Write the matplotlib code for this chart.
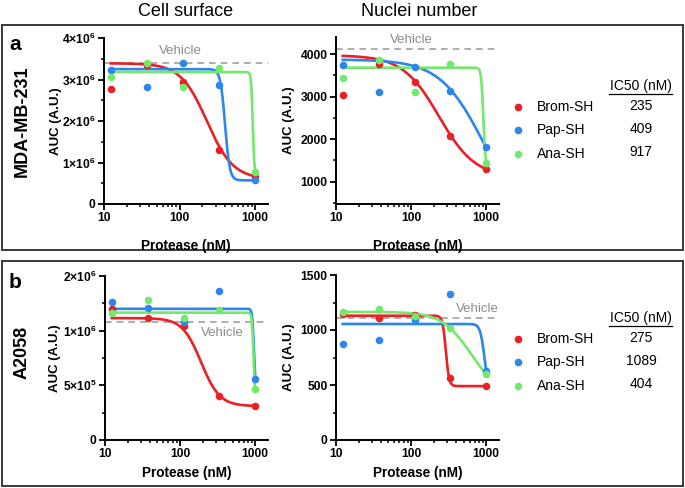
import numpy as np
import matplotlib
matplotlib.use("Agg")
import matplotlib.pyplot as plt
from matplotlib.patches import Rectangle
from matplotlib.ticker import MultipleLocator, NullFormatter

plt.rcParams['font.family'] = ['Liberation Sans', 'DejaVu Sans']
plt.rcParams['mathtext.fontset'] = 'custom'
plt.rcParams['mathtext.rm'] = 'Liberation Sans:bold'
plt.rcParams['mathtext.it'] = 'Liberation Sans:bold'
plt.rcParams['mathtext.bf'] = 'Liberation Sans:bold'

# ── data ─────────────────────────────────────────────
conc = [12.3, 37, 111, 333, 1000]           # protease, nM
compounds = ["Brom-SH", "Pap-SH", "Ana-SH"]
colors = ["#EC1F24", "#2D86EC", "#72E86C"]

# panel a, cell surface (AUC)
a_cell_brom = [2.76e6, 3.35e6, 2.93e6, 1.31e6, 0.65e6]
a_cell_pap  = [3.22e6, 2.83e6, 3.40e6, 2.87e6, 0.58e6]
a_cell_ana  = [3.07e6, 3.39e6, 2.82e6, 3.27e6, 0.77e6]
# panel a, nuclei number
a_nuc_brom = [3040, 3770, 3335, 2075, 1300]
a_nuc_pap  = [3750, 3100, 3695, 3140, 1810]
a_nuc_ana  = [3430, 3860, 3110, 3765, 1435]
# panel b, cell surface
b_cell_brom = [1.198e6, 1.113e6, 1.046e6, 0.398e6, 0.313e6]
b_cell_pap  = [1.262e6, 1.210e6, 1.077e6, 1.365e6, 0.559e6]
b_cell_ana  = [1.164e6, 1.283e6, 1.113e6, 1.190e6, 0.468e6]
# panel b, nuclei number
b_nuc_brom = [1145, 1112, 1139, 560, 491]
b_nuc_pap  = [869, 912, 1091, 1327, 630]
b_nuc_ana  = [1160, 1191, 1125, 1015, 597]

# fitted 4PL curves: (top, bottom, inflection nM, hill)
a_cell_fit = [(3.39e6, 0.60e6, 230, 2.5), (3.25e6, 0.57e6, 400, 14), (3.18e6, 0.70e6, 930, 40)]
a_nuc_fit  = [(3970, 1100, 235, 1.8), (3870, 0, 911, 1.5), (3680, 1300, 917, 30)]
b_cell_fit = [(1.115e6, 0.31e6, 190, 3.5), (1.20e6, 0.45e6, 960, 40), (1.165e6, 0.35e6, 950, 40)]
b_nuc_fit  = [(1130, 490, 290, 20), (1055, 430, 950, 15), (1165, 400, 627, 2.23)]

vehicle = {"a_cell": 3.39e6, "a_nuc": 4110, "b_cell": 1.082e6, "b_nuc": 1109}

ic50_a = ["235", "409", "917"]
ic50_b = ["275", "1089", "404"]

# ── figure ───────────────────────────────────────────
W, H = 685, 488
fig = plt.figure(figsize=(W / 100, H / 100), dpi=100)

# overlay in pixel coords for boxes / legends / labels
ov = fig.add_axes([0, 0, 1, 1])
ov.set_xlim(0, W); ov.set_ylim(H, 0); ov.axis("off")
for (y0, y1) in [(25, 250), (261, 486)]:
    ov.add_patch(Rectangle((2, y0), 681, y1 - y0, fill=False, ec="#3a3a3a", lw=1.4))


def px_axes(left, right, top, bottom):
    return fig.add_axes([left / W, 1 - bottom / H, (right - left) / W, (bottom - top) / H])


def logistic(x, top, bottom, ic, h):
    return bottom + (top - bottom) / (1 + (x / ic) ** h)


def draw(ax, pts, fits, veh, ylim, yticks, ylabels, yminor, veh_txt, ylab_x, xlab_y):
    xs = np.geomspace(conc[0], conc[-1], 500)
    for p, f, c in zip(pts, fits, colors):
        ax.plot(xs, logistic(xs, *f), color=c, lw=1.9, zorder=3)
        ax.scatter(conc, p, s=30, color=c, zorder=4, linewidths=0)
    ax.axhline(veh, color="#a0a0a0", lw=1.2, dashes=(4, 3), zorder=2)
    ax.set_xscale("log")
    ax.set_xlim(10, 1480)
    ax.set_ylim(*ylim)
    ax.set_xticks([10, 100, 1000])
    ax.set_xticklabels(["10", "100", "1000"])
    ax.xaxis.set_minor_formatter(NullFormatter())
    ax.set_yticks(yticks)
    ax.set_yticklabels(ylabels)
    ax.yaxis.set_minor_locator(MultipleLocator(yminor))
    for s in ["top", "right"]:
        ax.spines[s].set_visible(False)
    for s in ["left", "bottom"]:
        ax.spines[s].set_linewidth(1.4)
    ax.tick_params(which="major", length=4, width=1.3, labelsize=8.7, pad=2)
    ax.tick_params(which="minor", length=2.5, width=1.1)
    for lab in ax.get_xticklabels() + ax.get_yticklabels():
        lab.set_fontweight("bold")
    ax.set_xlabel("Protease (nM)", fontsize=9.8, fontweight="bold")
    ax.set_ylabel("AUC (A.U.)", fontsize=9.5, fontweight="bold")
    ax.yaxis.set_label_coords(ylab_x, 0.5)
    ax.xaxis.set_label_coords(0.5, xlab_y)
    tx, ty, va, ha = veh_txt
    ax.text(tx, ty, "Vehicle", color="#8c8c8c", fontsize=9.5, ha=ha, va=va,
            transform=ax.transData)
    ax.patch.set_alpha(0)


ax1 = px_axes(104, 268, 38, 204)
draw(ax1, [a_cell_brom, a_cell_pap, a_cell_ana], a_cell_fit, vehicle["a_cell"],
     (0, 4e6), [0, 1e6, 2e6, 3e6, 4e6],
     ["0", "1×10$^{6}$", "2×10$^{6}$", "3×10$^{6}$", "4×10$^{6}$"], 5e5,
     (102, 3.55e6, "bottom", "center"), (62 - 104) / 164, (204 - 239) / 166)

ax2 = px_axes(336, 499, 37, 204)
draw(ax2, [a_nuc_brom, a_nuc_pap, a_nuc_ana], a_nuc_fit, vehicle["a_nuc"],
     (477, 4400), [1000, 2000, 3000, 4000], ["1000", "2000", "3000", "4000"], 500,
     (100, 4180, "bottom", "center"), (295 - 336) / 163, (204 - 239) / 167)

ax3 = px_axes(105, 268, 276, 440)
draw(ax3, [b_cell_brom, b_cell_pap, b_cell_ana], b_cell_fit, vehicle["b_cell"],
     (0, 1.5e6), [0, 5e5, 1e6, 1.5e6],
     ["0", "5×10$^{5}$", "1×10$^{6}$", "2×10$^{6}$"], 2.5e5,
     (360, 1.035e6, "top", "center"), (61 - 105) / 163, (440 - 466) / 164)

ax4 = px_axes(336, 499, 275, 440)
draw(ax4, [b_nuc_brom, b_nuc_pap, b_nuc_ana], b_nuc_fit, vehicle["b_nuc"],
     (0, 1500), [0, 500, 1000, 1500], ["0", "500", "1000", "1500"], 250,
     (1480, 1135, "bottom", "right"), (295 - 336) / 163, (440 - 466) / 165)

# column titles
ov.text(186, 11, "Cell surface", fontsize=13, ha="center", va="center")
ov.text(419, 11, "Nuclei number", fontsize=13, ha="center", va="center")

# panel letters and row labels
ov.text(9, 45, "a", fontsize=15, fontweight="bold", ha="left", va="center")
ov.text(9, 282, "b", fontsize=15, fontweight="bold", ha="left", va="center")
ov.text(22, 121, "MDA-MB-231", fontsize=13, fontweight="bold", rotation=90,
        ha="center", va="center")
ov.text(22, 352, "A2058", fontsize=13, fontweight="bold", rotation=90,
        ha="center", va="center")

# IC50 legends
for y_head, ic50s in [(86, ic50_a), (318, ic50_b)]:
    ov.text(641, y_head, "IC50 (nM)", fontsize=10, ha="center", va="center")
    ov.plot([609, 672], [y_head + 7.5, y_head + 7.5], color="black", lw=0.9)
    for i, (name, c, v) in enumerate(zip(compounds, colors, ic50s)):
        y = y_head + 21 + i * 23.3
        ov.scatter([518], [y], s=30, color=c, linewidths=0)
        ov.text(537, y, name, fontsize=10, ha="left", va="center")
        ov.text(641, y - 1.5, v, fontsize=10, ha="center", va="center")

fig.savefig("out.png", dpi=100)
